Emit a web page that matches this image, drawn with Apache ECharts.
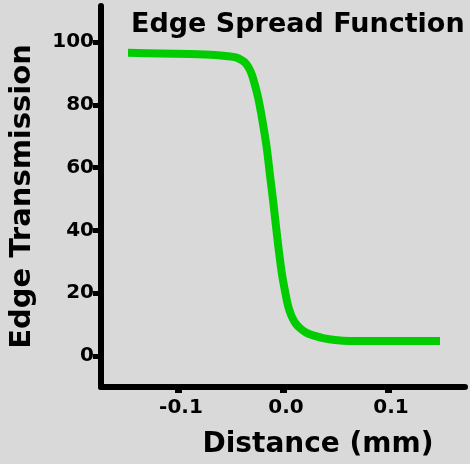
<!DOCTYPE html>
<html>
<head>
<meta charset="utf-8">
<script src="https://cdn.jsdelivr.net/npm/echarts@6/dist/echarts.min.js"></script>
<style>
  html, body { margin: 0; padding: 0; background: #d9d9d9; }
  #chart { width: 470px; height: 464px; }
</style>
</head>
<body>
<div id="chart"></div>
<script>
// Data
const titleText = 'Edge Spread Function';
const xAxisName = 'Distance (mm)';
const yAxisName = 'Edge Transmission';
const xTicks = [-0.1, 0.0, 0.1];
const yTicks = [0, 20, 40, 60, 80, 100];
const distance = [-0.1476, -0.1171, -0.0886, -0.0648, -0.0524, -0.0448, -0.0400, -0.0362, -0.0324, -0.0295, -0.0267, -0.0238, -0.0210, -0.0181, -0.0152, -0.0124, -0.0095, -0.0067, -0.0038, -0.0010, 0.0019, 0.0038, 0.0057, 0.0086, 0.0124, 0.0171, 0.0229, 0.0305, 0.0381, 0.0495, 0.0638, 0.1, 0.1495];
const transmission = [96.6, 96.4, 96.2, 95.9, 95.5, 95.1, 94.4, 93.5, 91.7, 89.5, 86.3, 82.5, 77.7, 72.0, 65.6, 57.6, 49.7, 41.4, 33.1, 26.1, 20.7, 17.5, 15.0, 12.4, 10.2, 8.6, 7.3, 6.4, 5.7, 5.1, 4.8, 4.75, 4.8];

const seriesData = distance.map((d, i) => [d, transmission[i]]);

const FONT = '"DejaVu Sans", sans-serif';
const chart = echarts.init(document.getElementById('chart'));
chart.setOption({
  backgroundColor: '#d9d9d9',
  animation: false,
  title: {
    text: titleText,
    left: 126,
    top: 6,
    textStyle: { fontFamily: FONT, fontWeight: 'bold', fontSize: 27, color: '#000' }
  },
  grid: { left: 101, right: 5, top: 6, bottom: 77 },
  xAxis: {
    type: 'value',
    min: -0.1733,
    max: 0.1733,
    splitLine: { show: false },
    axisLine: { onZero: false, lineStyle: { color: '#000', width: 6 } },
    axisTick: { customValues: xTicks, length: 6, lineStyle: { color: '#000', width: 7 } },
    axisLabel: {
      customValues: xTicks,
      formatter: v => v.toFixed(1),
      margin: 11,
      padding: [0, 0, 0, 6],
      fontFamily: FONT, fontWeight: 'bold', fontSize: 20, color: '#000'
    }
  },
  yAxis: {
    type: 'value',
    min: -9.87,
    max: 111.5,
    name: yAxisName,
    nameLocation: 'middle',
    nameRotate: 90,
    nameGap: 64,
    nameTextStyle: { fontFamily: FONT, fontWeight: 'bold', fontSize: 29, color: '#000' },
    splitLine: { show: false },
    axisLine: { onZero: false, lineStyle: { color: '#000', width: 6 } },
    axisTick: { customValues: yTicks, length: 8, lineStyle: { color: '#000', width: 5 } },
    axisLabel: {
      customValues: yTicks,
      margin: 7,
      fontFamily: FONT, fontWeight: 'bold', fontSize: 20, color: '#000'
    }
  },
  graphic: [{
    type: 'text',
    x: 318,
    y: 445,
    style: {
      text: xAxisName,
      align: 'center',
      verticalAlign: 'middle',
      font: 'bold 28px "DejaVu Sans", sans-serif',
      fill: '#000'
    }
  }],
  series: [{
    type: 'line',
    data: seriesData,
    showSymbol: false,
    smooth: 0.3,
    lineStyle: { color: '#00cc00', width: 8 }
  }]
});
</script>
</body>
</html>
